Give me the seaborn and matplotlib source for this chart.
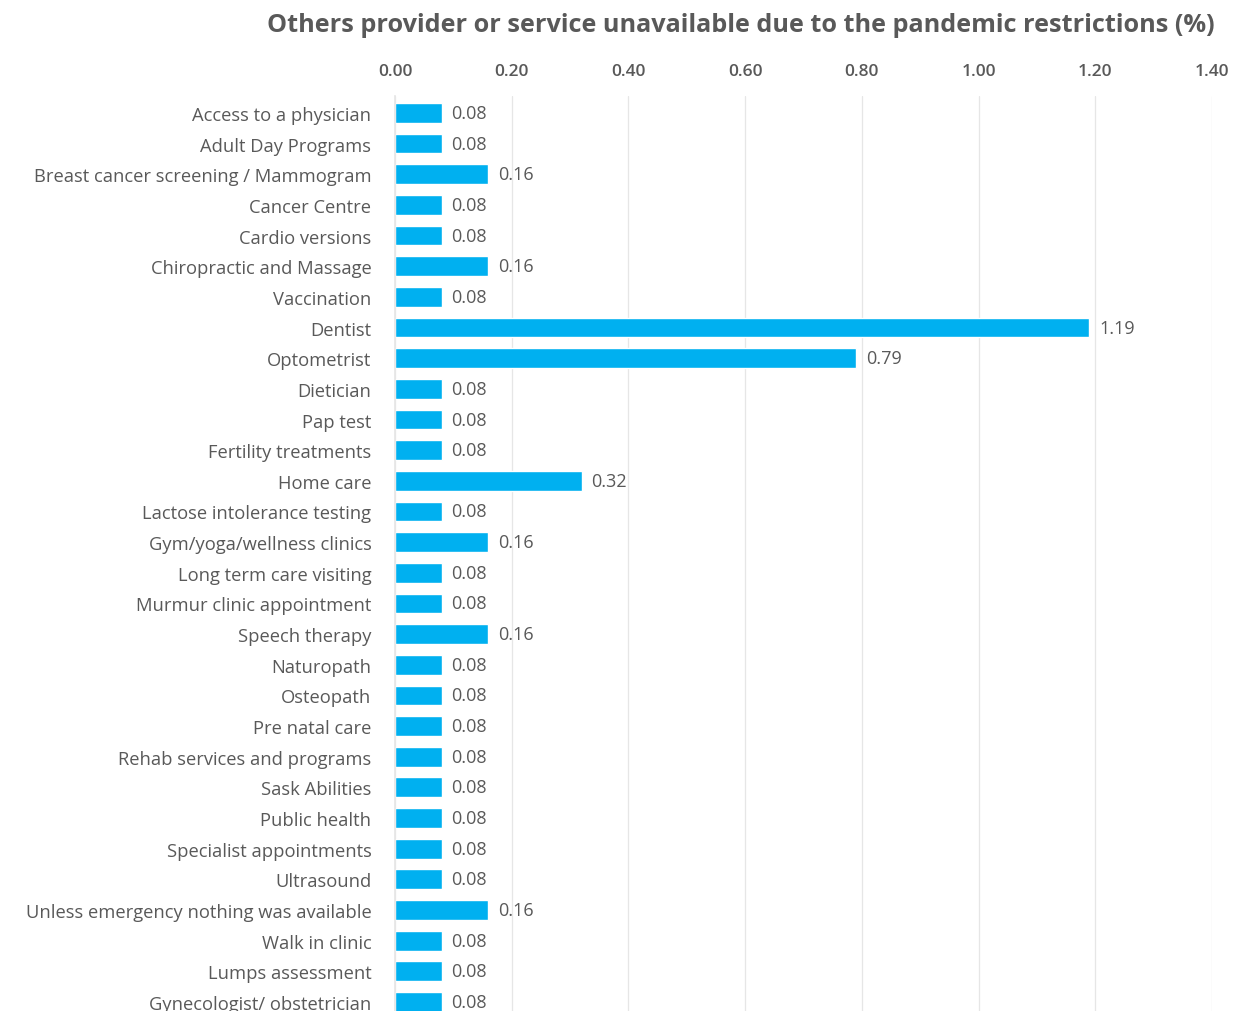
import matplotlib
matplotlib.use("Agg")
import matplotlib.pyplot as plt
import seaborn as sns
import pandas as pd

categories = [
    "Access to a physician", "Adult Day Programs", "Breast cancer screening / Mammogram",
    "Cancer Centre", "Cardio versions", "Chiropractic and Massage", "Vaccination",
    "Dentist", "Optometrist", "Dietician", "Pap test", "Fertility treatments",
    "Home care", "Lactose intolerance testing", "Gym/yoga/wellness clinics",
    "Long term care visiting", "Murmur clinic appointment", "Speech therapy",
    "Naturopath", "Osteopath", "Pre natal care", "Rehab services and programs",
    "Sask Abilities", "Public health", "Specialist appointments", "Ultrasound",
    "Unless emergency nothing was available", "Walk in clinic", "Lumps assessment",
    "Gynecologist/ obstetrician",
]
values = [
    0.08, 0.08, 0.16, 0.08, 0.08, 0.16, 0.08, 1.19, 0.79, 0.08,
    0.08, 0.08, 0.32, 0.08, 0.16, 0.08, 0.08, 0.16, 0.08, 0.08,
    0.08, 0.08, 0.08, 0.08, 0.08, 0.08, 0.16, 0.08, 0.08, 0.08,
]
x_ticks = [0.0, 0.2, 0.4, 0.6, 0.8, 1.0, 1.2, 1.4]
title = "Others provider or service unavailable due to the pandemic restrictions (%)"

sns.set_theme(style="white")
plt.rcParams["font.family"] = ["Open Sans", "DejaVu Sans"]

text_gray = "#595959"
bar_color = "#00B0F0"

df = pd.DataFrame({"service": categories, "pct": values})

fig = plt.figure(figsize=(12.38, 10.12), dpi=100)
ax = fig.add_axes([395 / 1238, 0.0, (1212 - 395) / 1238, 1 - 97 / 1012])

sns.barplot(data=df, y="service", x="pct", orient="h", color=bar_color,
            saturation=1, width=0.65, ax=ax, errorbar=None)

ax.set_xlim(0, 1.4)
ax.set_ylim(29.29, -0.55)
ax.set_xticks(x_ticks)
ax.set_xticklabels([f"{t:.2f}" for t in x_ticks])
ax.xaxis.tick_top()
ax.tick_params(axis="x", length=0, pad=12, labelsize=12.5, labelcolor=text_gray)
ax.tick_params(axis="y", length=0, pad=17, labelsize=13.2, labelcolor=text_gray)
for lbl in ax.get_xticklabels():
    lbl.set_fontweight("semibold")

ax.grid(axis="x", color="#E6E6E6", linewidth=0.9)
ax.set_axisbelow(True)
for s in ["top", "right", "bottom"]:
    ax.spines[s].set_visible(False)
ax.spines["left"].set_color("#E6E6E6")
ax.set_xlabel("")
ax.set_ylabel("")

for cont in ax.containers:
    ax.bar_label(cont, labels=[f"{v:.2f}" for v in values], padding=7,
                 fontsize=13, color=text_gray)

fig.text(741 / 1238, 1 - 25 / 1012, title, ha="center", va="center",
         fontsize=18.2, fontweight="bold", color=text_gray)

fig.savefig("out.png", dpi=100)
